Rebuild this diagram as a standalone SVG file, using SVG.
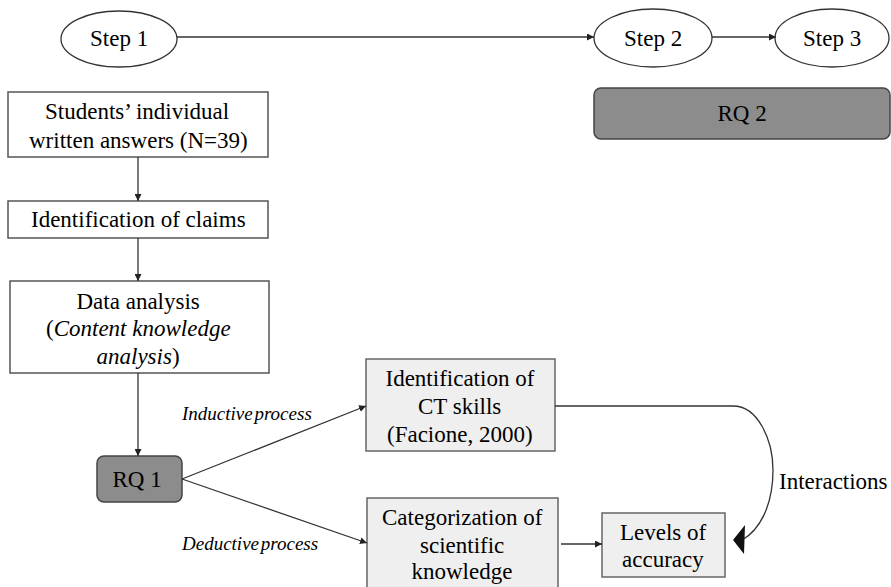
<svg xmlns="http://www.w3.org/2000/svg" width="891" height="587" viewBox="0 0 891 587">
<defs>
<marker id="ah" viewBox="0 0 10 10" refX="10" refY="5" markerWidth="7" markerHeight="7" markerUnits="userSpaceOnUse" orient="auto">
<path d="M0,0 L10,5 L0,10 z" fill="#222"/>
</marker>
<style>
text{font-family:'Liberation Serif',serif;font-size:23px;fill:#000;stroke:none}
.it{font-style:italic}
.lbl{font-style:italic;font-size:19px;word-spacing:-3px}
.ell{fill:#fff;stroke:#333;stroke-width:1.3}
.wb{fill:#fff;stroke:#555;stroke-width:1.5}
.gb{fill:#efefef;stroke:#666;stroke-width:1.5}
.rq{fill:#8c8c8c;stroke:#444;stroke-width:1.5}
.con line,.con path{stroke:#333;stroke-width:1.3;fill:none}
</style>
</defs>
<rect width="891" height="587" fill="#fff"/>
<g id="step1"><ellipse class="ell" cx="119" cy="39" rx="58" ry="28"/><text x="90" y="46">Step 1</text></g>
<g id="step2"><ellipse class="ell" cx="653" cy="38" rx="59" ry="29"/><text x="624" y="46">Step 2</text></g>
<g id="step3"><ellipse class="ell" cx="832" cy="38" rx="57" ry="29"/><text x="803" y="46">Step 3</text></g>
<g id="rq2"><rect class="rq" x="594" y="88" width="296" height="51" rx="7"/><text x="717.5" y="121">RQ 2</text></g>
<g id="answers"><rect class="wb" x="8" y="92" width="260" height="65"/><text x="45" y="119">Students’ individual</text><text x="29" y="148">written answers (N=39)</text></g>
<g id="claims"><rect class="wb" x="8" y="201" width="260" height="37"/><text x="31" y="227">Identification of claims</text></g>
<g id="analysis"><rect class="wb" x="10" y="281" width="259" height="92"/><text x="76.5" y="309">Data analysis</text><text x="46" y="336">(<tspan class="it">Content knowledge</tspan></text><text x="96.5" y="364"><tspan class="it">analysis</tspan>)</text></g>
<g id="rq1"><rect class="rq" x="97" y="456" width="85" height="46" rx="7"/><text x="112.5" y="487">RQ 1</text></g>
<g id="ct"><rect class="gb" x="366" y="359" width="189" height="92"/><text x="385.5" y="386">Identification of</text><text x="418" y="414">CT skills</text><text x="387" y="442">(Facione, 2000)</text></g>
<g id="cat"><rect class="gb" x="367" y="498" width="191" height="100"/><text x="382" y="525">Categorization of</text><text x="420" y="553">scientific</text><text x="411.5" y="579">knowledge</text></g>
<g id="levels"><rect class="gb" x="602" y="513" width="123" height="64"/><text x="620" y="540">Levels of</text><text x="622" y="567">accuracy</text></g>
<g id="connectors" class="con">
<line x1="177" y1="37" x2="594" y2="37" marker-end="url(#ah)"/>
<line x1="712" y1="37" x2="776" y2="37" marker-end="url(#ah)"/>
<line x1="138" y1="157" x2="138" y2="201" marker-end="url(#ah)"/>
<line x1="138" y1="238" x2="138" y2="281" marker-end="url(#ah)"/>
<line x1="138" y1="373" x2="138" y2="456" marker-end="url(#ah)"/>
<line x1="182" y1="479" x2="366" y2="406" marker-end="url(#ah)"/>
<line x1="182" y1="479" x2="367" y2="543" marker-end="url(#ah)"/>
<line x1="561" y1="544" x2="602" y2="544" marker-end="url(#ah)"/>
<path d="M555,406 L733,406 C758,406 773,440 773,470 C773,505 760,530 742,540"/>
<polygon points="733,540 745,525 744,554" fill="#111" stroke="none"/>
<text class="lbl" x="182" y="420">Inductive process</text>
<text class="lbl" x="182" y="550">Deductive process</text>
<text x="779" y="489">Interactions</text>
</g>
</svg>
